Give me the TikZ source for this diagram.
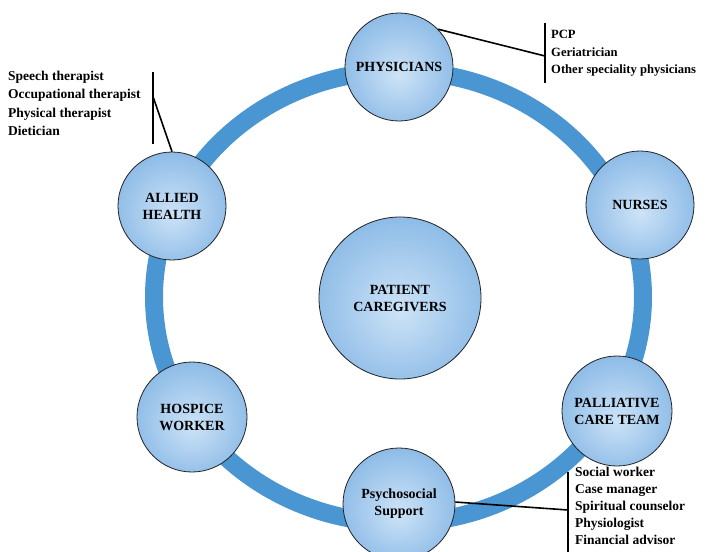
\documentclass[tikz,border=0pt]{standalone}
\usepackage{fontspec}
\setmainfont{Liberation Serif}
\definecolor{ringblue}{HTML}{4A96D2}
\definecolor{balllight}{HTML}{CDE3F7}
\definecolor{ballmid}{HTML}{8BBAE6}
\definecolor{balldark}{HTML}{5393D2}
\definecolor{balledge}{HTML}{222222}
\pgfdeclareradialshading{ballshade}{\pgfpoint{0bp}{-4bp}}{color(0bp)=(balllight); color(28bp)=(ballmid); color(50bp)=(balldark)}
\tikzset{
  ball/.style={circle, shade, shading=ballshade, draw=balledge, line width=0.8pt,
    inner sep=0pt, align=center, font=\fontsize{14}{17}\selectfont\bfseries},
  ring/.style={draw=ringblue, line width=18pt},
  listtext/.style={inner sep=0pt, align=left, anchor=north west},
  bracket/.style={draw=black, line width=2pt},
  leader/.style={draw=black, line width=1.6pt}
}
\begin{document}
\begin{tikzpicture}[x=1pt,y=-1pt]
\useasboundingbox[fill=white] (0,0) rectangle (705,552);
% ring
\draw[ring] (398.5,297) ellipse [x radius=244.5pt, y radius=226pt];
% circles
\node[ball, minimum size=108pt] (phys) at (399,67) {PHYSICIANS};
\node[ball, minimum size=108pt] (nurses) at (640,205) {NURSES};
\node[ball, minimum size=110pt] (pall) at (617,411) {PALLIATIVE\\CARE TEAM};
\node[ball, minimum size=112pt] (psych) at (399,504) {Psychosocial\\Support};
\node[ball, minimum size=110pt] (hosp) at (192,417) {HOSPICE\\WORKER};
\node[ball, minimum size=108pt] (allied) at (172,206) {ALLIED\\HEALTH};
\node[ball, minimum size=162pt] (patient) at (400,298) {PATIENT\\CAREGIVERS};
% lists
\node[listtext, font=\fontsize{13.5}{18.3}\selectfont\bfseries] (allist) at (8,71)
  {Speech therapist\\Occupational therapist\\Physical therapist\\Dietician};
\node[listtext, font=\fontsize{12.6}{17.5}\selectfont\bfseries] (phlist) at (551,30)
  {PCP\\Geriatrician\\Other speciality physicians};
\node[listtext, font=\fontsize{13.5}{17}\selectfont\bfseries] (pslist) at (575,467)
  {Social worker\\Case manager\\Spiritual counselor\\Physiologist\\Financial advisor};
% brackets
\coordinate (alTop) at (153,72);
\coordinate (alBot) at (153,144);
\coordinate (alJ) at (153.5,98);
\coordinate (phTop) at (545,23);
\coordinate (phBot) at (545,83);
\coordinate (phJ) at (545,56);
\coordinate (psTop) at (568,472);
\coordinate (psBot) at (568,552);
\coordinate (psJ) at (568,510);
\draw[bracket] (alTop) -- (alBot);
\draw[bracket] (phTop) -- (phBot);
\draw[bracket] (psTop) -- (psBot);
\draw[leader] (allied.north) -- (alJ);
\draw[leader] (phys.44) -- (phJ);
\draw[leader] (psych.2) -- (psJ);
\end{tikzpicture}
\end{document}
